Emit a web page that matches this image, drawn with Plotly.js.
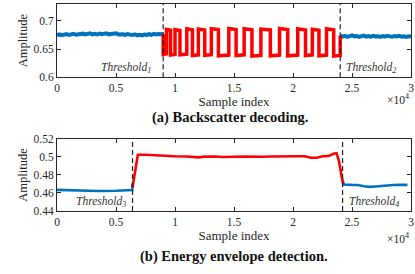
<!DOCTYPE html>
<html><head><meta charset="utf-8">
<script src="https://cdn.plot.ly/plotly-3.0.1.min.js"></script>
<style>html,body{margin:0;padding:0;background:#fff}#plot{width:415px;height:274px}</style>
</head><body><div id="plot"></div>
<script>
// ---- Data ----
// (a) Backscatter decoding
var aBlueLeftStart = 0, aBlueStep = 200;
var aBlueLeftY = [0.6745,0.6762,0.6748,0.6755,0.6768,0.6750,0.6760,0.6772,0.6754,0.6765,0.6758,0.6774,0.6760,0.6768,0.6778,0.6762,0.6770,0.6759,0.6776,0.6764,0.6771,0.6780,0.6762,0.6773,0.6766,0.6779,0.6760,0.6770,0.6764,0.6752,0.6768,0.6757,0.6749,0.6763,0.6745,0.6755,0.6742,0.6758,0.6750,0.6764,0.6753,0.6769,0.6758,0.6766,0.6755,0.6762];
var aBlueRightStart = 24000;
var aBlueRightY = [0.6738,0.6722,0.6735,0.6718,0.6730,0.6742,0.6725,0.6733,0.6716,0.6728,0.6740,0.6722,0.6731,0.6719,0.6736,0.6724,0.6729,0.6715,0.6732,0.6721,0.6737,0.6726,0.6718,0.6730,0.6723,0.6735,0.6720,0.6728,0.6716,0.6727,0.6722];
var aRedStart = [9000,9280,9620,10000,10420,11000,11480,11980,12520,13080,13680,14560,15180,15860,16520,17280,18080,18860,19550,20400,21060,21640,22200,22840,23450];
var aRedEnd   = [9280,9620,10000,10420,11000,11480,11980,12520,13080,13680,14560,15180,15860,16520,17280,18080,18860,19550,20400,21060,21640,22200,22840,23450,24000];
var aRedLevel = [0.6405,0.6850,0.6395,0.6845,0.6400,0.6860,0.6385,0.6855,0.6390,0.6860,0.6380,0.6865,0.6385,0.6860,0.6375,0.6855,0.6380,0.6865,0.6380,0.6860,0.6385,0.6850,0.6380,0.6860,0.6375];
var aRedEndLevel = [0.6415,0.6835,0.6405,0.6830,0.6412,0.6842,0.6398,0.6838,0.6402,0.6846,0.6394,0.6846,0.6398,0.6842,0.6390,0.6840,0.6394,0.6848,0.6394,0.6840,0.6398,0.6834,0.6394,0.6842,0.6388];
var aThresholds = [9000, 24000];

// (b) Energy envelope detection
var bBlueLeftX = [0,500,1000,1500,2000,2500,3000,3500,4000,4500,5000,5500,6000,6380,6400];
var bBlueLeftY = [0.4635,0.4633,0.4628,0.4624,0.4620,0.4618,0.4620,0.4622,0.4622,0.4620,0.4625,0.4628,0.4630,0.4632,0.4705];
var bRedX = [6400,6550,6700,6850,7500,8000,9000,10000,11000,11500,12000,12500,13000,13500,14000,14500,15000,16000,17000,17500,18000,18500,19000,19500,20000,20500,21000,21500,22000,22500,23000,23500,23700,23900,24100,24250];
var bRedY = [0.4660,0.4780,0.4950,0.5025,0.5025,0.5020,0.5012,0.5008,0.5006,0.4998,0.4996,0.5004,0.5008,0.5005,0.5000,0.5005,0.5002,0.5004,0.5000,0.5002,0.5006,0.5005,0.5003,0.5002,0.5006,0.5008,0.5008,0.4992,0.4992,0.5008,0.5010,0.5038,0.5040,0.4950,0.4800,0.4700];
var bBlueRightX = [24200,24300,25000,25500,26000,26500,27000,27500,28000,28500,29000,29700];
var bBlueRightY = [0.4745,0.4695,0.4690,0.4688,0.4675,0.4668,0.4672,0.4680,0.4685,0.4688,0.4690,0.4690];
var bThresholds = [6400, 24200];

var xTickVals = [0,5000,10000,15000,20000,25000,30000];
var xTickText = ["0","0.5","1","1.5","2","2.5","3"];
var aYTicks = [0.6,0.65,0.7], aYText = ["0.6","0.65","0.7"];
var bYTicks = [0.44,0.46,0.48,0.5,0.52], bYText = ["0.44","0.46","0.48","0.5","0.52"];
var thrLabels = ["<i>Threshold<sub>1</sub></i>","<i>Threshold<sub>2</sub></i>","<i>Threshold<sub>3</sub></i>","<i>Threshold<sub>4</sub></i>"];
var captions = ["(a) Backscatter decoding.","(b) Energy envelope detection."];

// ---- Build ----
var BLUE = "#0072BD", RED = "#FF0000";
function grid(start, step, n){ var r=[]; for(var i=0;i<n;i++) r.push(start+i*step); return r; }
var redX=[], redY=[];
redX.push(aRedStart[0]); redY.push(aBlueLeftY[aBlueLeftY.length-1]);
for (var i=0;i<aRedStart.length;i++){
  redX.push(aRedStart[i],aRedEnd[i]);
  redY.push(aRedLevel[i],aRedEndLevel[i]);
}
redX.push(aRedEnd[aRedEnd.length-1]); redY.push(aBlueRightY[0]);

var traces = [
  {x:grid(aBlueLeftStart,aBlueStep,aBlueLeftY.length), y:aBlueLeftY, xaxis:'x', yaxis:'y', mode:'lines', line:{color:BLUE,width:4}},
  {x:grid(aBlueRightStart,aBlueStep,aBlueRightY.length), y:aBlueRightY, xaxis:'x', yaxis:'y', mode:'lines', line:{color:BLUE,width:4}},
  {x:redX, y:redY, xaxis:'x', yaxis:'y', mode:'lines', line:{color:RED,width:3.5}},
  {x:bBlueLeftX, y:bBlueLeftY, xaxis:'x2', yaxis:'y2', mode:'lines', line:{color:BLUE,width:2.6}},
  {x:bBlueRightX, y:bBlueRightY, xaxis:'x2', yaxis:'y2', mode:'lines', line:{color:BLUE,width:2.6}},
  {x:bRedX, y:bRedY, xaxis:'x2', yaxis:'y2', mode:'lines', line:{color:RED,width:2.6}}
];

var FONT = "Liberation Serif, Times New Roman, serif";
var TXT = "#262626";
function xax(anchor){ return {anchor:anchor, range:[0,30000], tickvals:xTickVals, ticktext:xTickText, ticks:'inside', ticklen:4, tickcolor:TXT,
  showline:true, linecolor:TXT, linewidth:1, mirror:'ticks', showgrid:false, zeroline:false,
  tickfont:{family:FONT,size:11.5,color:TXT}, title:{text:'Sample index', font:{family:FONT,size:13,color:TXT}, standoff:3}}; }
function yax(anchor, dom, rng, tv, tt){ return {anchor:anchor, domain:dom, range:rng, tickvals:tv, ticktext:tt, ticks:'inside', ticklen:4, tickcolor:TXT,
  showline:true, linecolor:TXT, linewidth:1, mirror:'ticks', showgrid:false, zeroline:false,
  tickfont:{family:FONT,size:11.5,color:TXT}, title:{text:'Amplitude', font:{family:FONT,size:12.5,color:TXT}, standoff:3}}; }

var shapes = [];
aThresholds.forEach(function(t){ shapes.push({type:'line', xref:'x', yref:'y domain', x0:t, x1:t, y0:0, y1:1, line:{color:'#222',width:1.2,dash:'5px,3px'}}); });
bThresholds.forEach(function(t){ shapes.push({type:'line', xref:'x2', yref:'y2 domain', x0:t, x1:t, y0:0, y1:1, line:{color:'#222',width:1.2,dash:'5px,3px'}}); });

var tf = {family:FONT,size:11.5,color:'#333'};
var annotations = [
  {xref:'x', yref:'y domain', x:aThresholds[0], y:0.0, xanchor:'right', yanchor:'bottom', xshift:-10, text:thrLabels[0], showarrow:false, font:tf},
  {xref:'x', yref:'y domain', x:aThresholds[1], y:0.0, xanchor:'left', yanchor:'bottom', xshift:4, text:thrLabels[1], showarrow:false, font:tf},
  {xref:'x2', yref:'y2 domain', x:bThresholds[0], y:0.0, xanchor:'right', yanchor:'bottom', xshift:-5, text:thrLabels[2], showarrow:false, font:tf},
  {xref:'x2', yref:'y2 domain', x:bThresholds[1], y:0.0, xanchor:'left', yanchor:'bottom', xshift:4, text:thrLabels[3], showarrow:false, font:tf},
  {xref:'paper', yref:'paper', x:1, y:0.54, xanchor:'right', yanchor:'middle', text:'×10<sup>4</sup>', showarrow:false, font:{family:FONT,size:11.5,color:TXT}},
  {xref:'paper', yref:'paper', x:1, y:-0.13, xanchor:'right', yanchor:'middle', text:'×10<sup>4</sup>', showarrow:false, font:{family:FONT,size:11.5,color:TXT}},
  {xref:'paper', yref:'paper', x:0.49, y:0.454, xanchor:'center', yanchor:'middle', text:'<b>'+captions[0]+'</b>', showarrow:false, font:{family:FONT,size:14.5,color:'#111'}},
  {xref:'paper', yref:'paper', x:0.5, y:-0.222, xanchor:'center', yanchor:'middle', text:'<b>'+captions[1]+'</b>', showarrow:false, font:{family:FONT,size:14.5,color:'#111'}}
];

var layout = {
  width:415, height:274, margin:{l:57, r:4, t:4, b:63},
  paper_bgcolor:'#fff', plot_bgcolor:'#fff', showlegend:false,
  xaxis: xax('y'), yaxis: yax('x',[0.646,1],[0.6,0.73],aYTicks,aYText),
  xaxis2: xax('y2'), yaxis2: yax('x2',[0,0.348],[0.44,0.52],bYTicks,bYText),
  shapes:shapes, annotations:annotations
};
Plotly.newPlot('plot', traces, layout, {staticPlot:true, displayModeBar:false});
</script></body></html>
